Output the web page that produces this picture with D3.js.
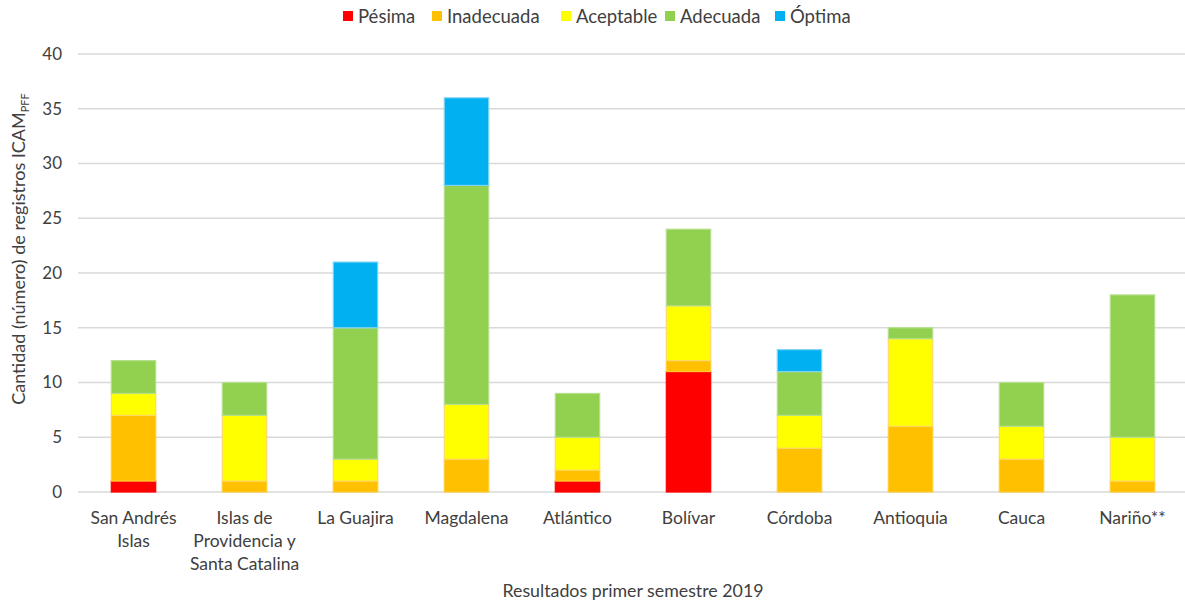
<!DOCTYPE html>
<html><head><meta charset="utf-8">
<script src="https://cdn.jsdelivr.net/npm/d3@7"></script>
<style>body{margin:0;background:#fff;} text{font-family:Lato,"Open Sans",sans-serif;fill:#404040;}</style>
</head><body>
<svg id="c" width="1185" height="604"></svg>
<script>
const categories = ["San Andrés\nIslas","Islas de\nProvidencia y\nSanta Catalina","La Guajira","Magdalena","Atlántico","Bolívar","Córdoba","Antioquia","Cauca","Nariño**"];
const seriesNames = ["Pésima","Inadecuada","Aceptable","Adecuada","Óptima"];
const pesima     = [1,0,0,0,1,11,0,0,0,0];
const inadecuada = [6,1,1,3,1,1,4,6,3,1];
const aceptable  = [2,6,2,5,3,5,3,8,3,4];
const adecuada   = [3,3,12,20,4,7,4,1,4,13];
const optima     = [0,0,6,8,0,0,2,0,0,0];
const yTicks = [0,5,10,15,20,25,30,35,40];

const fills = ["#FF0000","#FFC000","#FFFF00","#92D050","#00B0F0"];
const strokes = ["#FF0000","#FFCC33","#FFD966","#B5E08C","#7FD4F5"];

const svg = d3.select("#c");
const x = d3.scaleBand().domain(d3.range(categories.length)).range([78,1188]).paddingInner(0.6).paddingOuter(0.3);
const y = d3.scaleLinear().domain([0,40]).range([492,54]);

// grid
svg.append("g").selectAll("line").data(yTicks).join("line")
  .attr("x1",78).attr("x2",1185).attr("y1",d=>y(d)).attr("y2",d=>y(d))
  .attr("stroke","#d9d9d9").attr("stroke-width",1.5);

// y axis labels
const yAxis = d3.axisLeft(y).tickValues(yTicks).tickSize(0).tickPadding(0);
const ga = svg.append("g").attr("transform","translate(62,0)").call(yAxis);
ga.select(".domain").remove();
ga.selectAll("text").style("font-family","Lato, sans-serif").style("font-size","17px").attr("fill","#404040");

// stacks
const rows = categories.map((c,i)=>({i, "Pésima":pesima[i],"Inadecuada":inadecuada[i],"Aceptable":aceptable[i],"Adecuada":adecuada[i],"Óptima":optima[i]}));
const stack = d3.stack().keys(seriesNames)(rows);
svg.append("g").selectAll("g").data(stack).join("g")
  .attr("fill",(d,k)=>fills[k]).attr("stroke",(d,k)=>strokes[k]).attr("stroke-width",1.2)
  .selectAll("rect").data(d=>d.filter(s=>s[1]-s[0]>0)).join("rect")
  .attr("x",d=>x(d.data.i)).attr("width",x.bandwidth())
  .attr("y",d=>y(d[1])).attr("height",d=>y(d[0])-y(d[1]));

// x labels
const xl = svg.append("g");
categories.forEach((c,i)=>{
  const t = xl.append("text").attr("text-anchor","middle").attr("x",x(i)+x.bandwidth()/2).attr("y",524).style("font-size","17.5px");
  c.split("\n").forEach((ln,j)=>t.append("tspan").attr("x",x(i)+x.bandwidth()/2).attr("dy",j?23:0).text(ln));
});

// x title
svg.append("text").attr("x",633).attr("y",597).attr("text-anchor","middle").style("font-size","17.8px").text("Resultados primer semestre 2019");

// y title
const yt = svg.append("text").attr("transform","translate(25,249) rotate(-90)").attr("text-anchor","middle").style("font-size","18px");
yt.append("tspan").text("Cantidad (número) de registros ICAM");
yt.append("tspan").attr("dy",4).style("font-size","11px").text("PFF");

// legend
const legX = [343,432,561,665,775];
const lg = svg.append("g");
seriesNames.forEach((n,k)=>{
  lg.append("rect").attr("x",legX[k]).attr("y",11).attr("width",10).attr("height",10).attr("fill",fills[k]);
  lg.append("text").attr("x",legX[k]+15).attr("y",23).style("font-size","18.5px").text(n);
});
</script>
</body></html>
